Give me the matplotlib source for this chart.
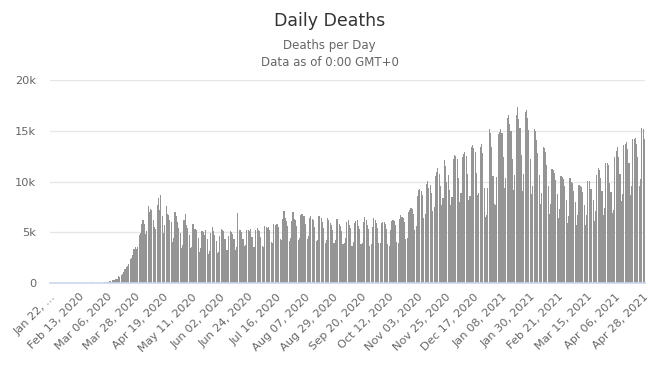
import matplotlib
matplotlib.use("Agg")
import matplotlib.pyplot as plt
import pandas as pd

START_DATE = "2020-01-22"

# daily deaths, one list per month
jan_2020 = [0, 8, 16, 15, 24, 26, 26, 38, 43, 46]
feb_2020 = [45, 57, 64, 66, 73, 73, 60, 55, 62, 58, 60, 70, 64, 66, 52, 55, 60, 58, 55, 50,
            4, 40, 150, 60, 55, 37, 58, 60, 62]
mar_2020 = [70, 67, 73, 85, 100, 104, 103, 229, 218, 287, 326, 349, 437, 397, 735, 668, 853, 935, 1085,
            1385, 1652, 1668, 1865, 2348, 2526, 2751, 3392, 3605, 3348, 3549, 4800]
apr_2020 = [4957, 5850, 6191, 5795, 4843, 5163, 7604, 6985, 7268, 7254, 6202, 5536, 5375, 7694, 8411,
            7213, 8638, 6638, 4946, 5700, 7578, 6820, 6727, 6261, 6044, 4049, 4418, 7037, 6618, 5985]
may_2020 = [5395, 4937, 3465, 3740, 6215, 6800, 5722, 5468, 4765, 3503, 3620, 5785, 5332, 5390, 5260,
            4470, 3126, 3432, 5140, 5010, 4800, 5220, 4313, 2900, 3210, 4960, 5520, 5100, 4750, 4195, 2987]
jun_2020 = [3100, 4650, 5380, 5250, 5100, 4360, 3270, 3280, 4700, 5110, 5070, 4850, 4310, 3300, 3580,
            6900, 5250, 5200, 5050, 4400, 3690, 3800, 5250, 5240, 5150, 5350, 4580, 3620, 3560, 5290]
jul_2020 = [5400, 5250, 5110, 4570, 3630, 3610, 5640, 5580, 5470, 5500, 5250, 4100, 3990, 5800, 5750,
            5850, 5860, 5550, 4350, 4300, 6300, 7150, 6400, 6150, 5600, 4150, 4480, 6100, 7050, 6300, 6200]
aug_2020 = [5650, 4300, 4450, 6700, 6850, 6650, 6600, 5800, 4330, 4700, 6450, 6620, 6300, 6250, 5500,
            4120, 4300, 6650, 6600, 6400, 6000, 5470, 3950, 4220, 6400, 6180, 5900, 5760, 5250, 3980, 4300]
sep_2020 = [6300, 6300, 5800, 5600, 5150, 3900, 4000, 4500, 6060, 6200, 5700, 5400, 3700, 4100, 5950,
            6150, 6250, 5600, 5300, 3850, 3950, 6000, 6500, 6200, 5700, 5300, 3700, 3850, 5550, 6450]
oct_2020 = [6200, 5900, 5400, 4000, 3950, 5900, 6050, 6000, 5850, 5300, 3900, 3700, 5200, 6150, 6200,
            6100, 5700, 4050, 3950, 6350, 6700, 6500, 6450, 6000, 4400, 4450, 7050, 7200, 7450, 7300, 6800]
nov_2020 = [5250, 5600, 8600, 9200, 9250, 9050, 8700, 6450, 6800, 9800, 10050, 9400, 9650, 8900, 7150,
            7500, 10600, 10950, 11300, 10800, 9600, 7700, 8350, 12150, 11500, 9950, 10700, 9150, 7700, 8500]
dec_2020 = [12250, 12650, 12550, 12200, 10350, 7950, 8900, 12400, 12750, 12900, 12550, 10800, 8150, 8600,
            13450, 13650, 13300, 12950, 10900, 8650, 8850, 13400, 13700, 12800, 9400, 6500, 6700, 9400,
            15200, 14750, 13450]
jan_2021 = [10600, 7800, 7750, 10450, 14700, 14900, 15200, 14800, 12400, 9350, 10350, 16300, 16600, 15700,
            15000, 12250, 9200, 10650, 16550, 17300, 16200, 15300, 12600, 9050, 10800, 16900, 17050, 16250,
            15100, 12200, 8800]
feb_2021 = [9600, 15200, 15000, 14100, 12800, 10700, 7850, 8850, 13450, 13300, 12900, 11600, 9600, 6850,
            7800, 11250, 11150, 10900, 10200, 8750, 6400, 7350, 10550, 10500, 10250, 9600, 8200, 5950]
mar_2021 = [6600, 10400, 9950, 9900, 9100, 7950, 5750, 6700, 9700, 9600, 9500, 8950, 7700, 5700, 6700,
            10100, 10050, 9300, 9250, 8200, 6100, 7150, 10700, 11300, 11100, 10400, 9050, 6750, 7400,
            11800, 11850]
apr_2021 = [11600, 9900, 9000, 6900, 7200, 12400, 13050, 13400, 12450, 10800, 8100, 8800, 13600, 13700,
            13900, 13200, 11800, 8700, 9600, 14150, 14200, 14300, 13750, 12400, 9600, 10300, 15300, 15200,
            14200]

MONTHS = [jan_2020, feb_2020, mar_2020, apr_2020, may_2020, jun_2020, jul_2020, aug_2020, sep_2020,
          oct_2020, nov_2020, dec_2020, jan_2021, feb_2021, mar_2021, apr_2021]

Y_TICKS = [0, 5000, 10000, 15000, 20000]
Y_LABELS = ["0", "5k", "10k", "15k", "20k"]
LABEL_STEP = 22

TEXT_DARK = "#333333"
TEXT_GREY = "#666666"
BAR_COLOR = "#959595"


def main() -> int:
    deaths = [v for month in MONTHS for v in month]
    dates = pd.date_range(START_DATE, periods=len(deaths), freq="D")
    x = list(range(len(deaths)))

    fig = plt.figure(figsize=(6.59, 3.67), dpi=100)
    ax = fig.add_axes([50 / 659, 1 - 283.3 / 367, 595 / 659, 203.3 / 367])

    ax.bar(x, deaths, width=0.85, color=BAR_COLOR, linewidth=0, zorder=2)

    ax.set_xlim(-0.5, len(deaths) - 0.5)
    ax.set_ylim(0, 20000)
    ax.set_yticks(Y_TICKS)
    ax.set_yticklabels(Y_LABELS)
    ax.yaxis.grid(True, color="#e6e6e6", linewidth=1, zorder=0)
    ax.set_axisbelow(True)

    tick_pos = x[::LABEL_STEP]
    tick_lab = [d.strftime("%b %d, %Y") for d in dates[::LABEL_STEP]]
    tick_lab[0] = "Jan 22, ..."
    ax.set_xticks(tick_pos)
    ax.set_xticklabels(tick_lab, rotation=45, ha="right", rotation_mode="anchor")

    for side in ("top", "right", "left"):
        ax.spines[side].set_visible(False)
    ax.spines["bottom"].set_color("#ccd6eb")
    ax.spines["bottom"].set_linewidth(1.2)
    ax.spines["bottom"].set_zorder(3)

    ax.tick_params(axis="y", length=0, pad=10, labelsize=8.2, labelcolor=TEXT_GREY)
    ax.tick_params(axis="x", length=0, pad=6, labelsize=8.2, labelcolor=TEXT_GREY)

    fig.text(0.5, 1 - 21 / 367, "Daily Deaths", ha="center", va="center",
             fontsize=12.5, color=TEXT_DARK)
    fig.text(0.5, 1 - 45 / 367, "Deaths per Day", ha="center", va="center",
             fontsize=8.5, color=TEXT_GREY)
    fig.text(0.5, 1 - 62 / 367, "Data as of 0:00 GMT+0", ha="center", va="center",
             fontsize=8.5, color=TEXT_GREY)

    fig.savefig("out.png", dpi=100)
    plt.close(fig)
    return 0


if __name__ == "__main__":
    raise SystemExit(main())
